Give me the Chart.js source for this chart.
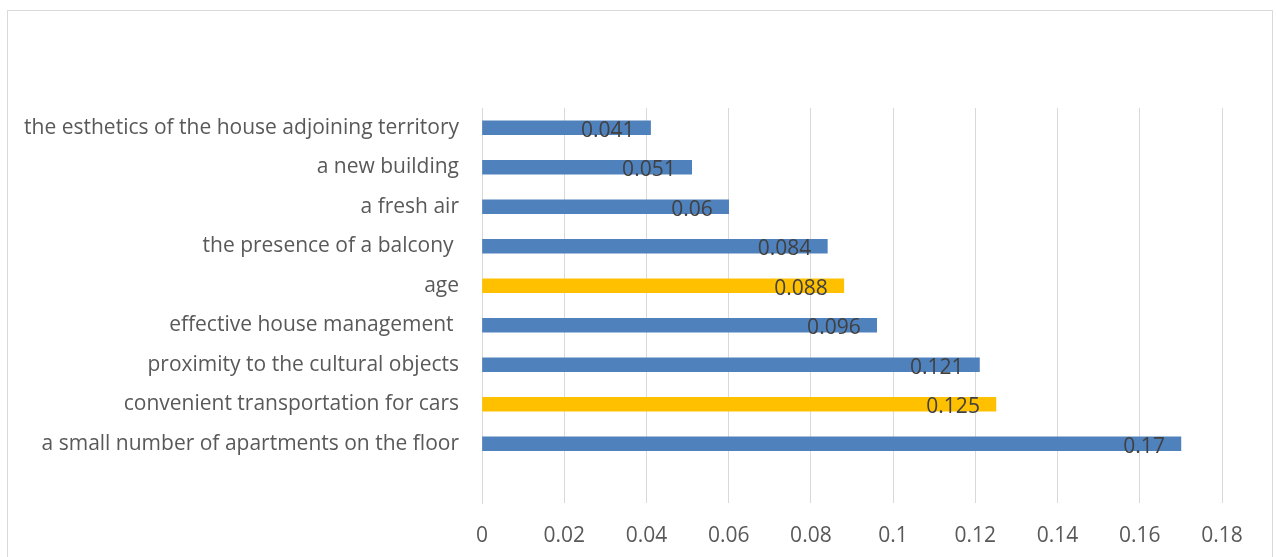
<!DOCTYPE html>
<html>
<head>
<meta charset="utf-8">
<script src="https://cdn.jsdelivr.net/npm/chart.js@4"></script>
<style>
  html, body { margin: 0; padding: 0; background: #fff; }
  #wrap { width: 1277px; height: 557px; position: relative; }
</style>
</head>
<body>
<div id="wrap"><canvas id="factorChart" width="1277" height="557"></canvas></div>
<script>
// categories top -> bottom (last one is an empty slot like in the source sheet)
const factors = [
    "the esthetics of the house adjoining territory",
    "a new building",
    "a fresh air",
    "the presence of a balcony ",
    "age",
    "effective house management ",
    "proximity to the cultural objects",
    "convenient transportation for cars",
    "a small number of apartments on the floor",
    ""
];
const weights = [0.041, 0.051, 0.06, 0.084, 0.088, 0.096, 0.121, 0.125, 0.17, null];
const highlighted = ["age", "convenient transportation for cars"];
const xTicks = [0, 0.02, 0.04, 0.06, 0.08, 0.1, 0.12, 0.14, 0.16, 0.18];

const blue = "#4f81bd";
const yellow = "#ffc000";
const barColors = factors.map(f => highlighted.includes(f) ? yellow : blue);

const fontFam = "'Open Sans', Lato, sans-serif";

// pick a font size so the longest label is about as wide as in the picture (~434px)
let fontSize = 19;
(function () {
    const c = document.createElement("canvas").getContext("2d");
    c.font = "100px " + fontFam;
    const w = c.measureText(factors[0]).width;
    fontSize = Math.round(434 * 100 / w * 10) / 10;
})();

// outer frame like the office chart area border
const framePlugin = {
    id: "frame",
    beforeDraw(chart) {
        const c = chart.ctx;
        c.save();
        c.strokeStyle = "#d9d9d9";
        c.lineWidth = 1;
        c.strokeRect(7.5, 10.5, 1265, 560);
        c.restore();
    }
};

// value labels near the inner end of each bar
const valueLabels = {
    id: "valueLabels",
    afterDatasetsDraw(chart) {
        const c = chart.ctx;
        const meta = chart.getDatasetMeta(0);
        c.save();
        c.font = fontSize + "px " + fontFam;
        c.fillStyle = "#404040";
        c.textAlign = "right";
        c.textBaseline = "middle";
        meta.data.forEach((bar, i) => {
            if (weights[i] == null) return;
            c.fillText(String(weights[i]), bar.x - 16, bar.y + 3);
        });
        c.restore();
    }
};

let factorChart = new Chart(document.getElementById("factorChart"), {
    type: "bar",
    data: {
        labels: factors,
        datasets: [{
            data: weights,
            backgroundColor: barColors,
            borderWidth: 0,
            barThickness: 14
        }]
    },
    options: {
        indexAxis: "y",
        responsive: false,
        animation: false,
        layout: { padding: { top: 108, right: 55, left: 0, bottom: 0 } },
        plugins: {
            legend: { display: false },
            tooltip: { enabled: false }
        },
        scales: {
            x: {
                min: 0,
                max: 0.18,
                afterBuildTicks(scale) {
                    scale.ticks = xTicks.map(v => ({ value: v }));
                },
                afterFit(scale) { scale.height = 54; },
                grid: { color: "#d9d9d9", lineWidth: 1, drawTicks: false },
                border: { display: false },
                ticks: {
                    padding: 20,
                    color: "#595959",
                    font: { size: fontSize, family: fontFam },
                    callback: v => String(Math.round(v * 100) / 100)
                }
            },
            y: {
                afterFit(scale) { scale.width = 482; },
                grid: { display: false },
                border: { display: true, color: "#d9d9d9" },
                ticks: {
                    padding: 15,
                    color: "#595959",
                    font: { size: fontSize, family: fontFam }
                }
            }
        }
    },
    plugins: [framePlugin, valueLabels]
});
</script>
</body>
</html>
